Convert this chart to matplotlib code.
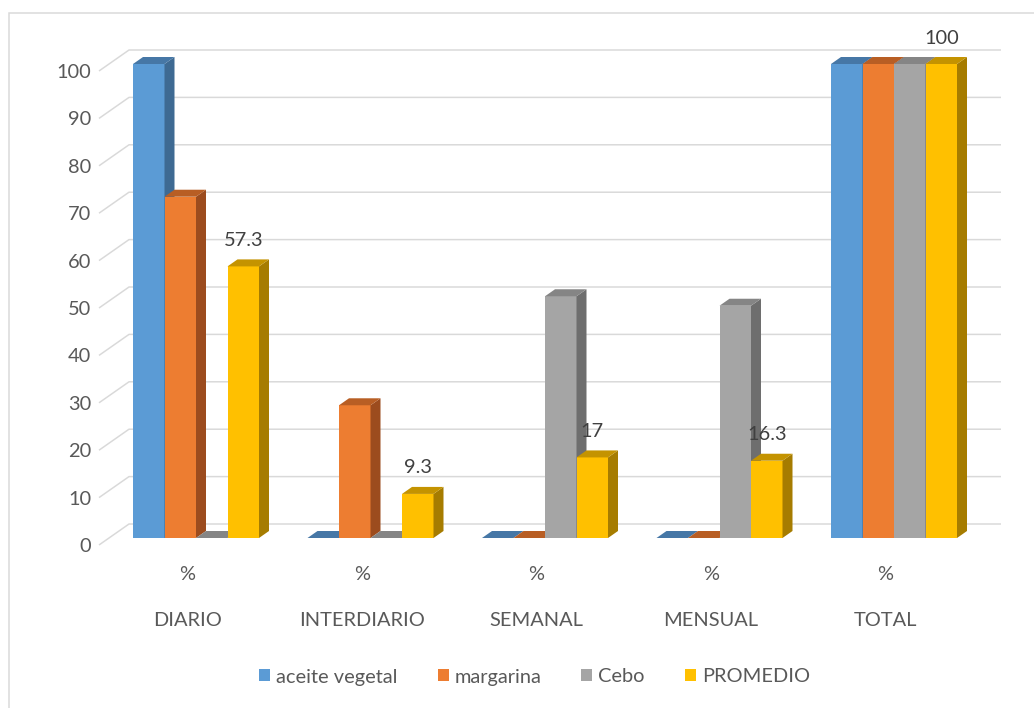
import numpy as np
import matplotlib
matplotlib.use("Agg")
import matplotlib.pyplot as plt
from matplotlib.patches import Polygon, Patch, Rectangle

# ---- data ----
categories = ['DIARIO', 'INTERDIARIO', 'SEMANAL', 'MENSUAL', 'TOTAL']
unit_labels = ['%', '%', '%', '%', '%']
series_names = ['aceite vegetal', 'margarina', 'Cebo', 'PROMEDIO']
aceite_vegetal = [100, 0, 0, 0, 100]
margarina = [72, 28, 0, 0, 100]
cebo = [0, 0, 51, 49, 100]
promedio = [57.3, 9.3, 17, 16.3, 100]
y_ticks = list(range(0, 101, 10))

series_values = [aceite_vegetal, margarina, cebo, promedio]
front_colors = ['#5B9BD5', '#ED7D31', '#A5A5A5', '#FFC000']
side_colors = ['#3E6A93', '#9C4C1E', '#6E6E6E', '#A67C00']
top_colors = ['#4677A6', '#B85E24', '#858585', '#C49300']
text_color = '#595959'
grid_color = '#D9D9D9'
FS = 20

plt.rcParams['font.family'] = ['Lato', 'DejaVu Sans']

DPI = 72
fig = plt.figure(figsize=(1034 / DPI, 708 / DPI), dpi=DPI)
fig.patch.set_facecolor('white')

# chart frame (only top/left visible in the original crop)
fig.add_artist(Rectangle((9 / 1034, -0.05), 1.1, 1 - 13 / 708 + 0.05,
                         transform=fig.transFigure, fill=False,
                         edgecolor='#D9D9D9', linewidth=1.5))

# axes placed over the front plane of the 3D plot
px_x = 174.5   # pixels per category
px_y = 4.74    # pixels per value unit
left_px, right_px, bottom_px, top_px = 99, 1001, 545, 28
ax = fig.add_axes([left_px / 1034, 1 - bottom_px / 708,
                   (right_px - left_px) / 1034, (bottom_px - top_px) / 708])
ddx = 10 / px_x          # bar depth (x)
ddy = 7 / px_y           # bar depth (y)
x0 = (left_px - 196) / px_x
ax.set_xlim(x0, x0 + (right_px - left_px) / px_x)
ax.set_ylim(-ddy, -ddy + (bottom_px - top_px) / px_y)
for s in ax.spines.values():
    s.set_visible(False)
ax.set_facecolor('none')

# back wall gridlines with perspective stub on the left
xl_front = ax.get_xlim()[0]
xl_back = xl_front + 3 * ddx
x_right = ax.get_xlim()[1]
for v in y_ticks:
    ax.plot([xl_front, xl_back, x_right], [v - ddy, v + 2 * ddy, v + 2 * ddy],
            color=grid_color, linewidth=1.5, zorder=1, clip_on=False,
            solid_capstyle='butt')

ax.set_yticks([v - ddy for v in y_ticks])
ax.set_yticklabels([str(v) for v in y_ticks])
ax.tick_params(axis='y', length=0, pad=8, labelsize=FS, labelcolor=text_color)

# bars with pseudo-3D faces
bar_w = 31.5 / px_x
offsets = (np.arange(len(series_values)) - 1.5) * bar_w
x = np.arange(len(categories))
z = 2
for ci in range(len(categories)):
    for si, vals in enumerate(series_values):
        h = vals[ci]
        xl = x[ci] + offsets[si] - bar_w / 2
        xr = xl + bar_w
        if h > 0:
            ax.bar(xl, h, width=bar_w, align='edge', color=front_colors[si],
                   linewidth=0, zorder=z)
            ax.add_patch(Polygon([(xr, 0), (xr + ddx, ddy), (xr + ddx, h + ddy), (xr, h)],
                                 closed=True, facecolor=side_colors[si],
                                 linewidth=0, zorder=z))
        ax.add_patch(Polygon([(xl, h), (xr, h), (xr + ddx, h + ddy), (xl + ddx, h + ddy)],
                             closed=True, facecolor=top_colors[si],
                             linewidth=0, zorder=z))
        z += 1

# data labels on the PROMEDIO series
for ci, v in enumerate(promedio):
    xc = x[ci] + offsets[3]
    ax.annotate(f'{v:g}', xy=(xc, v), xytext=(0, 26), textcoords='offset pixels',
                ha='center', va='center', fontsize=FS, color='#404040', zorder=100)

# category axis: "%" row and category names
ax.set_xticks(x - 0.05)
ax.set_xticklabels(categories)
ax.tick_params(axis='x', length=0, pad=67, labelsize=FS, labelcolor=text_color)
for ci, lab in enumerate(unit_labels):
    ax.annotate(lab, xy=(x[ci] - 0.05, 0), xycoords=('data', 'axes fraction'),
                xytext=(0, -30), textcoords='offset pixels',
                ha='center', va='center', fontsize=FS, color=text_color)

handles = [Patch(facecolor=c, edgecolor='none') for c in front_colors]
fig.legend(handles, series_names, loc='center', bbox_to_anchor=(0.517, 1 - 677 / 708),
           ncol=4, frameon=False, fontsize=FS, labelcolor=text_color,
           handlelength=0.55, handleheight=0.55, handletextpad=0.3, columnspacing=2.0)

fig.savefig('out.png', dpi=DPI, facecolor='white')
